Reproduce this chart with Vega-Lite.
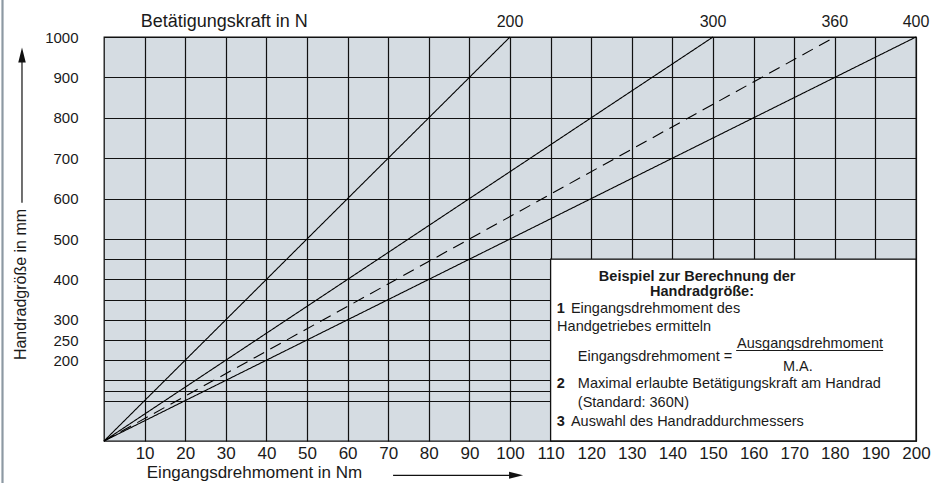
{
  "$schema": "https://vega.github.io/schema/vega-lite/v6.json",
  "width": 812,
  "height": 404,
  "autosize": {"type": "none"},
  "padding": {"left": 104, "top": 37, "right": 24, "bottom": 42},
  "background": "white",
  "data": {"values": [{"one": 1}]},
  "config": {
    "font": "Liberation Sans",
    "view": {"fill": "#d5dce2", "stroke": "#111111", "strokeWidth": 1.3},
    "text": {"font": "Liberation Sans", "color": "#1a1a1a"},
    "axisX": {
      "grid": true, "gridColor": "#111111", "gridOpacity": 1, "gridWidth": 1.2,
      "domain": false, "ticks": false,
      "labelFontSize": 17, "labelColor": "#1a1a1a", "labelPadding": 4,
      "labelFlush": false, "labelOverlap": false,
      "titleFontSize": 17, "titleFontWeight": "normal",
      "titleColor": "#1a1a1a", "titleX": 150, "titleY": 31, "titleAlign": "center", "titleBaseline": "middle"
    },
    "axisY": {
      "grid": true, "gridColor": "#111111", "gridOpacity": 1, "gridWidth": 1.2,
      "domain": false, "ticks": false,
      "labelFontSize": 15, "labelColor": "#1a1a1a", "labelPadding": 26,
      "labelOverlap": false, "labelFlush": false,
      "titleFontSize": 16, "titleFontWeight": "normal",
      "titleColor": "#1a1a1a", "titleX": -84, "titleY": 247, "titleAlign": "center", "titleBaseline": "middle", "titleAngle": 270
    }
  },
  "datasets": {
    "lines": [
      {"F": 200, "M": 0, "D": 0}, {"F": 200, "M": 100, "D": 1000},
      {"F": 300, "M": 0, "D": 0}, {"F": 300, "M": 150, "D": 1000},
      {"F": 360, "M": 0, "D": 0}, {"F": 360, "M": 180, "D": 1000},
      {"F": 400, "M": 0, "D": 0}, {"F": 400, "M": 200, "D": 1000}
    ]
  },
  "layer": [
    {
      "data": {"name": "lines"},
      "mark": {"type": "line", "color": "black", "strokeWidth": 1.1},
      "encoding": {
        "x": {
          "field": "M", "type": "quantitative",
          "scale": {"domain": [0, 200], "nice": false, "zero": false},
          "title": "Eingangsdrehmoment in Nm",
          "axis": {
            "values": [10,20,30,40,50,60,70,80,90,100,110,120,130,140,150,160,170,180,190,200],
            "tickCount": 100,
            "format": "d"
          }
        },
        "y": {
          "field": "D", "type": "quantitative",
          "scale": {"domain": [0, 1000], "nice": false},
          "title": "Handradgröße in mm",
          "axis": {
            "values": [100,125,150,200,250,300,350,400,450,500,600,700,800,900,1000],
            "tickCount": 100,
            "format": "d",
            "labelExpr": "indexof([200,250,300,400,500,600,700,800,900,1000], datum.value) >= 0 ? datum.label : ''"
          }
        },
        "detail": {"field": "F"},
        "strokeDash": {
          "field": "F", "type": "nominal",
          "scale": {"domain": [200, 300, 360, 400], "range": [[1, 0], [1, 0], [12, 7], [1, 0]]},
          "legend": null
        }
      }
    },
    {
      "data": {"name": "lines"},
      "transform": [{"filter": "datum.D == 1000"}],
      "mark": {"type": "text", "fontSize": 16, "dy": -15, "align": "center", "baseline": "middle"},
      "encoding": {
        "x": {"field": "M", "type": "quantitative", "title": "Eingangsdrehmoment in Nm"},
        "y": {"field": "D", "type": "quantitative", "title": "Handradgröße in mm"},
        "text": {"field": "F", "type": "nominal"}
      }
    },
    {
      "mark": {"type": "text", "text": "Betätigungskraft in N", "fontSize": 18, "align": "center", "baseline": "middle"},
      "encoding": {
        "x": {"datum": 29.6, "type": "quantitative", "title": "Eingangsdrehmoment in Nm"},
        "y": {"datum": 1038, "type": "quantitative", "title": "Handradgröße in mm"}
      }
    },
    {
      "mark": {"type": "rect", "fill": "white", "stroke": "#111111", "strokeWidth": 1.3},
      "encoding": {
        "x": {"datum": 110, "type": "quantitative", "title": "Eingangsdrehmoment in Nm"},
        "x2": {"datum": 200},
        "y": {"datum": 0, "type": "quantitative", "title": "Handradgröße in mm"},
        "y2": {"datum": 450}
      }
    },
    {
      "mark": {"type": "text", "text": "Beispiel zur Berechnung der", "fontSize": 14.5, "fontWeight": "bold", "align": "center"},
      "encoding": {"x": {"datum": 146.1, "type": "quantitative", "title": "Eingangsdrehmoment in Nm"}, "y": {"datum": 407, "type": "quantitative", "title": "Handradgröße in mm"}}
    },
    {
      "mark": {"type": "text", "text": "Handradgröße:", "fontSize": 14.5, "fontWeight": "bold", "align": "center"},
      "encoding": {"x": {"datum": 147.3, "type": "quantitative", "title": "Eingangsdrehmoment in Nm"}, "y": {"datum": 370, "type": "quantitative", "title": "Handradgröße in mm"}}
    },
    {
      "mark": {"type": "text", "text": "1", "fontSize": 14.5, "fontWeight": "bold", "align": "left"},
      "encoding": {"x": {"datum": 111.5, "type": "quantitative", "title": "Eingangsdrehmoment in Nm"}, "y": {"datum": 325.5, "type": "quantitative", "title": "Handradgröße in mm"}}
    },
    {
      "mark": {"type": "text", "text": "Eingangsdrehmoment  des", "fontSize": 14.5, "align": "left"},
      "encoding": {"x": {"datum": 115, "type": "quantitative", "title": "Eingangsdrehmoment in Nm"}, "y": {"datum": 325.5, "type": "quantitative", "title": "Handradgröße in mm"}}
    },
    {
      "mark": {"type": "text", "text": "Handgetriebes ermitteln", "fontSize": 14.5, "align": "left"},
      "encoding": {"x": {"datum": 111.6, "type": "quantitative", "title": "Eingangsdrehmoment in Nm"}, "y": {"datum": 281, "type": "quantitative", "title": "Handradgröße in mm"}}
    },
    {
      "mark": {"type": "text", "text": "Eingangsdrehmoment =", "fontSize": 14.5, "align": "left"},
      "encoding": {"x": {"datum": 116.7, "type": "quantitative", "title": "Eingangsdrehmoment in Nm"}, "y": {"datum": 207, "type": "quantitative", "title": "Handradgröße in mm"}}
    },
    {
      "mark": {"type": "text", "text": "Ausgangsdrehmoment", "fontSize": 14.5, "align": "center"},
      "encoding": {"x": {"datum": 173.9, "type": "quantitative", "title": "Eingangsdrehmoment in Nm"}, "y": {"datum": 241, "type": "quantitative", "title": "Handradgröße in mm"}}
    },
    {
      "mark": {"type": "rule", "color": "#1a1a1a", "strokeWidth": 1},
      "encoding": {
        "x": {"datum": 155.7, "type": "quantitative", "title": "Eingangsdrehmoment in Nm"}, "x2": {"datum": 191.9},
        "y": {"datum": 224, "type": "quantitative", "title": "Handradgröße in mm"}
      }
    },
    {
      "mark": {"type": "text", "text": "M.A.", "fontSize": 14.5, "align": "center"},
      "encoding": {"x": {"datum": 170.9, "type": "quantitative", "title": "Eingangsdrehmoment in Nm"}, "y": {"datum": 184, "type": "quantitative", "title": "Handradgröße in mm"}}
    },
    {
      "mark": {"type": "text", "text": "2", "fontSize": 14.5, "fontWeight": "bold", "align": "left"},
      "encoding": {"x": {"datum": 111.5, "type": "quantitative", "title": "Eingangsdrehmoment in Nm"}, "y": {"datum": 140, "type": "quantitative", "title": "Handradgröße in mm"}}
    },
    {
      "mark": {"type": "text", "text": "Maximal erlaubte Betätigungskraft am Handrad", "fontSize": 14.5, "align": "left"},
      "encoding": {"x": {"datum": 116.7, "type": "quantitative", "title": "Eingangsdrehmoment in Nm"}, "y": {"datum": 140, "type": "quantitative", "title": "Handradgröße in mm"}}
    },
    {
      "mark": {"type": "text", "text": "(Standard: 360N)", "fontSize": 14.5, "align": "left"},
      "encoding": {"x": {"datum": 116.7, "type": "quantitative", "title": "Eingangsdrehmoment in Nm"}, "y": {"datum": 93, "type": "quantitative", "title": "Handradgröße in mm"}}
    },
    {
      "mark": {"type": "text", "text": "3", "fontSize": 14.5, "fontWeight": "bold", "align": "left"},
      "encoding": {"x": {"datum": 111.5, "type": "quantitative", "title": "Eingangsdrehmoment in Nm"}, "y": {"datum": 46, "type": "quantitative", "title": "Handradgröße in mm"}}
    },
    {
      "mark": {"type": "text", "text": "Auswahl des Handraddurchmessers", "fontSize": 14.5, "align": "left"},
      "encoding": {"x": {"datum": 115, "type": "quantitative", "title": "Eingangsdrehmoment in Nm"}, "y": {"datum": 46, "type": "quantitative", "title": "Handradgröße in mm"}}
    },
    {
      "mark": {"type": "rule", "color": "#111111", "strokeWidth": 1.2},
      "encoding": {
        "x": {"datum": -20.2, "type": "quantitative", "title": "Eingangsdrehmoment in Nm"},
        "y": {"datum": 590, "type": "quantitative", "title": "Handradgröße in mm"}, "y2": {"datum": 956}
      }
    },
    {
      "mark": {"type": "point", "shape": "M-0.5,1L0,-1L0.5,1Z", "size": 225, "filled": true, "color": "#111111", "opacity": 1, "strokeWidth": 0},
      "encoding": {
        "x": {"datum": -20.2, "type": "quantitative", "title": "Eingangsdrehmoment in Nm"},
        "y": {"datum": 955.4, "type": "quantitative", "title": "Handradgröße in mm"}
      }
    },
    {
      "mark": {"type": "rule", "color": "#111111", "strokeWidth": 1.2},
      "encoding": {
        "x": {"datum": 71.2, "type": "quantitative", "title": "Eingangsdrehmoment in Nm"}, "x2": {"datum": 101},
        "y": {"datum": -85, "type": "quantitative", "title": "Handradgröße in mm"}
      }
    },
    {
      "mark": {"type": "point", "shape": "M-1,-0.5L1,0L-1,0.5Z", "size": 196, "filled": true, "color": "#111111", "opacity": 1, "strokeWidth": 0},
      "encoding": {
        "x": {"datum": 101.5, "type": "quantitative", "title": "Eingangsdrehmoment in Nm"},
        "y": {"datum": -85, "type": "quantitative", "title": "Handradgröße in mm"}
      }
    },
    {
      "mark": {"type": "rule", "color": "#8d99a3", "strokeWidth": 2.2},
      "encoding": {
        "x": {"datum": -25, "type": "quantitative", "title": "Eingangsdrehmoment in Nm"},
        "y": {"datum": 1095, "type": "quantitative", "title": "Handradgröße in mm"}, "y2": {"datum": -105}
      }
    }
  ]
}
